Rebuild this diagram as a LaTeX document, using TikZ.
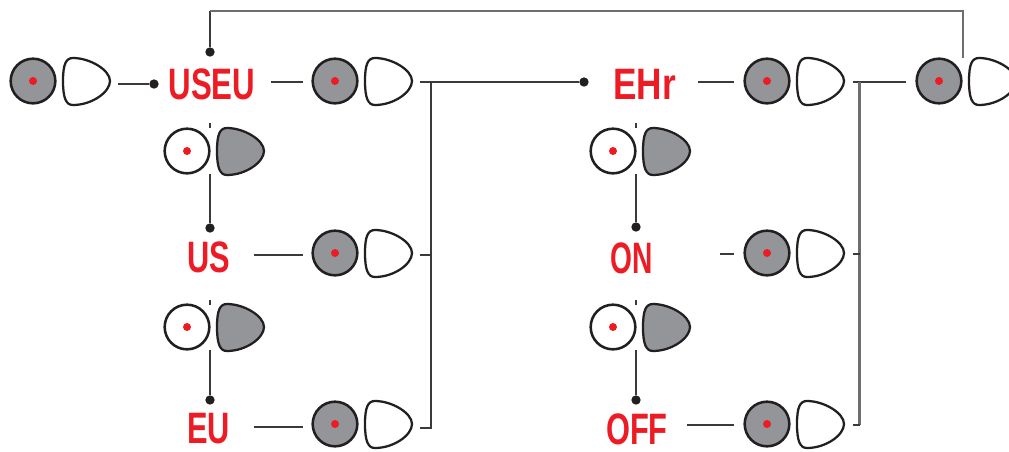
\documentclass[tikz,border=0pt]{standalone}
\usepackage{fontspec}
\setmainfont{Liberation Sans}
\definecolor{ledred}{HTML}{ED1C24}
\definecolor{btngray}{HTML}{939598}
\definecolor{ink}{HTML}{231F20}
\definecolor{wire}{HTML}{3A3A3C}
\definecolor{wiregray}{HTML}{6D6E71}
\tikzset{
  btncirc/.style={circle,draw=ink,line width=1.9pt,minimum size=33.5pt,inner sep=0pt},
  dshape/.style={draw=ink,line width=1.7pt,line join=round},
  leddot/.style={circle,fill=ledred,minimum size=6pt,inner sep=0pt},
  wirenode/.style={circle,fill=ink,minimum size=7pt,inner sep=0pt},
  conn/.style={draw=wire,line width=1.1pt},
  conngray/.style={draw=wiregray,line width=1.9pt},
  ledtext/.style={text=ledred,font=\bfseries\fontsize{33}{33}\selectfont,xscale=#1,transform shape,inner sep=0pt,anchor=center},
}
% name, x, y, circle fill, D fill
\newcommand{\btnpair}[5]{%
  \node[btncirc,fill=#4] (#1) at (#2,#3) {};
  \node[leddot] (#1dot) at (#2,#3) {};
  \begin{scope}[shift={(#2,#3)}]
    \path[dshape,fill=#5] (40,-23) .. controls (57,-23) and (77,-11) .. (77,0)
      .. controls (77,11) and (59,24) .. (40,24)
      .. controls (33,24) and (30,17) .. (30,0)
      .. controls (30,-17) and (33,-23) .. (40,-23) -- cycle;
    \coordinate (#1r) at (77,0);
  \end{scope}}
\begin{document}
\begin{tikzpicture}[x=0.75pt,y=-0.75pt]
\useasboundingbox (0,0) rectangle (1009,451);
\clip (0,0) rectangle (1009,451);
\fill[white] (0,0) rectangle (1009,451);
% buttons: pressed-left pairs
\btnpair{a}{33}{81}{btngray}{white}
\btnpair{b}{335}{81}{btngray}{white}
\btnpair{c}{335}{253}{btngray}{white}
\btnpair{d}{335}{424}{btngray}{white}
\btnpair{e}{767}{81}{btngray}{white}
\btnpair{f}{767}{253}{btngray}{white}
\btnpair{g}{767}{424}{btngray}{white}
\btnpair{h}{939}{81}{btngray}{white}
% buttons: pressed-right pairs
\btnpair{n}{187}{151}{white}{btngray}
\btnpair{o}{187}{327}{white}{btngray}
\btnpair{p}{613}{151}{white}{btngray}
\btnpair{q}{613}{327}{white}{btngray}
% labels
\node[ledtext=.71] (useu) at (212,84) {USEU};
\node[ledtext=.70] (us) at (208.5,257) {US};
\node[ledtext=.70] (eu) at (208.5,429) {EU};
\node[ledtext=.80] (ehr) at (644.5,84) {EHr};
\node[ledtext=.64] (on) at (632,258) {ON};
\node[ledtext=.70] (off) at (637,429) {OFF};
% wire dots
\node[wirenode] (d0) at (154,84) {};
\node[wirenode] (d1) at (210,52) {};
\node[wirenode] (d2) at (210,228) {};
\node[wirenode] (d3) at (210,400) {};
\node[wirenode] (d4) at (584,82) {};
\node[wirenode] (d5) at (636,227) {};
\node[wirenode] (d6) at (636,400) {};
% free ends
\coordinate (topl) at (210,11);
\coordinate (topr) at (963,11);
\coordinate (toprend) at (963,58);
\coordinate (bj) at (431,82);
\coordinate (bjm) at (431,255);
\coordinate (bjb) at (431,428);
\coordinate (ej) at (859.5,82);
\coordinate (ejm) at (859.5,254);
\coordinate (ejb) at (859.5,425);
% horizontal connectors
\draw[conn] ([shift={(8,3)}]ar) -- (d0);
\draw[conn] ([shift={(15.5,-2)}]useu.east) -- ([shift={(-8,1)}]b.west);
\draw[conn] ([shift={(8,1)}]br) -- (d4);
\draw[conn] ([shift={(24,-2)}]us.east) -- ([shift={(-8,2)}]c.west);
\draw[conn] ([shift={(24,-2)}]eu.east) -- ([shift={(-8,3)}]d.west);
\draw[conn] ([shift={(22,-2)}]ehr.east) -- ([shift={(-9,1)}]e.west);
\draw[conn] ([shift={(67,-4)}]on.east) -- ([shift={(-9,1)}]f.west);
\draw[conn] ([shift={(19,-4)}]off.east) -- ([shift={(-9,1)}]g.west);
\draw[conn] ([shift={(9,1)}]er) -- ([shift={(-9,1)}]h.west);
% bus left
\draw[conn] (bj) -- (bjb) -- ([shift={(8,4)}]dr);
\draw[conn] ([shift={(8,2)}]cr) -- (bjm);
% bus right
\draw[conngray] (ej) -- (ejb);
\draw[conn] (ejb) -- ([shift={(9,1)}]gr);
\draw[conn] ([shift={(9,1)}]fr) -- (ejm);
% verticals under pressed-right pairs
\draw[conn] ([shift={(23,-28)}]n.center) -- ([shift={(23,-23)}]n.center);
\draw[conn] ([shift={(23,23)}]n.center) -- (d2);
\draw[conn] ([shift={(23,-27)}]o.center) -- ([shift={(23,-22)}]o.center);
\draw[conn] ([shift={(23,23)}]o.center) -- (d3);
\draw[conn] ([shift={(23,-28)}]p.center) -- ([shift={(23,-23)}]p.center);
\draw[conn] ([shift={(23,23)}]p.center) -- (d5);
\draw[conn] ([shift={(23,-27)}]q.center) -- ([shift={(23,-22)}]q.center);
\draw[conn] ([shift={(23,23)}]q.center) -- (d6);
% return loop
\draw[conn] (d1) -- (topl);
\draw[conngray,line join=miter] (topl) -- (topr) -- (toprend);
\end{tikzpicture}
\end{document}
